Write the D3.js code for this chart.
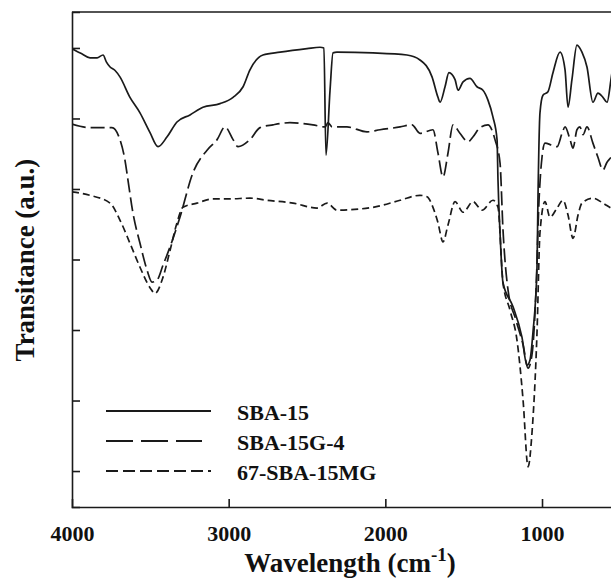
<!DOCTYPE html>
<html>
<head>
<meta charset="utf-8">
<script src="https://cdn.jsdelivr.net/npm/d3@7"></script>
<style>
  html, body { margin: 0; padding: 0; background: #fff; }
  svg { display: block; }
  text { font-family: "Liberation Serif", "Times New Roman", serif; font-weight: bold; fill: #111; }
</style>
</head>
<body>
<svg id="chart" width="611" height="587"></svg>
<script>
// FTIR spectra: wavenumber (cm-1) and transmittance (arbitrary units, offset traces)
const seriesNames = ["SBA-15", "SBA-15G-4", "67-SBA-15MG"];

const sba15Wn = [4000,3940,3885,3840,3802,3780,3757,3725,3694,3630,3566,3502,3451,3393,3330,3247,3164,3055,2972,2908,2864,2781,2672,2500,2417,2392,2379,2353,2334,2309,2079,1862,1779,1702,1664,1651,1619,1594,1555,1536,1504,1460,1415,1377,1345,1313,1287,1281,1268,1249,1185,1128,1096,1077,1058,1032,1026,1013,994,962,930,885,853,834,809,777,745,713,675,643,611,585,560,534];
const sba15T  = [5.99,5.92,5.86,5.86,5.90,5.80,5.73,5.68,5.59,5.30,5.08,4.80,4.60,4.74,4.95,5.05,5.16,5.21,5.30,5.45,5.69,5.90,5.94,5.99,6.01,6.00,4.48,5.40,5.93,5.94,5.93,5.90,5.83,5.59,5.30,5.23,5.45,5.65,5.55,5.40,5.52,5.57,5.45,5.40,5.26,5.02,4.70,4.13,3.38,2.67,2.33,1.90,1.50,1.57,1.96,2.89,3.84,5.08,5.33,5.38,5.65,5.94,5.69,5.16,5.55,6.04,5.94,5.73,5.23,5.36,5.30,5.23,5.55,6.00];

const sbaG4Wn = [4000,3885,3745,3694,3662,3643,3611,3566,3521,3489,3457,3419,3374,3311,3228,3138,3074,3023,2972,2940,2864,2800,2717,2609,2462,2385,2366,2340,2245,2117,2034,1906,1830,1779,1696,1664,1632,1600,1568,1524,1472,1440,1396,1345,1300,1268,1249,1217,1166,1121,1089,1064,1038,1019,1000,981,936,904,872,853,821,802,777,758,738,713,675,643,611,585,560,534];
const sbaG4T  = [4.92,4.87,4.87,4.70,4.41,4.13,3.66,3.23,2.85,2.68,2.71,2.92,3.18,3.60,4.23,4.55,4.70,4.88,4.70,4.60,4.70,4.87,4.91,4.94,4.91,4.88,4.94,4.88,4.88,4.81,4.84,4.88,4.91,4.79,4.84,4.51,4.17,4.51,4.91,4.79,4.67,4.74,4.87,4.91,4.70,4.37,3.42,2.57,2.14,1.79,1.46,1.65,2.57,3.84,4.45,4.65,4.62,4.60,4.79,4.88,4.70,4.58,4.84,4.88,4.77,4.88,4.65,4.45,4.27,4.38,4.45,4.55];

const sbaMgWn = [4000,3885,3757,3694,3630,3566,3502,3470,3419,3374,3330,3292,3202,3100,2992,2864,2755,2589,2436,2372,2309,2079,1906,1779,1734,1696,1664,1632,1600,1555,1504,1440,1383,1313,1281,1249,1204,1160,1121,1089,1064,1032,1013,981,949,904,866,834,802,770,745,675,611,560,534];
const sbaMgT  = [3.96,3.91,3.80,3.56,3.23,2.89,2.60,2.52,2.75,3.13,3.52,3.74,3.80,3.86,3.86,3.87,3.84,3.80,3.73,3.80,3.70,3.74,3.84,3.91,3.89,3.74,3.52,3.25,3.49,3.82,3.67,3.82,3.70,3.84,3.74,2.67,2.28,1.86,1.01,0.06,0.54,1.96,3.38,3.82,3.60,3.73,3.84,3.63,3.30,3.63,3.80,3.87,3.80,3.73,3.70];

const xTicks = [4000, 3000, 2000, 1000];
const yTicks = [0, 1, 2, 3, 4, 5, 6];

const svg = d3.select("#chart");
const plotLeft = 72, plotTop = 12, plotBottom = 507;

const x = d3.scaleLinear().domain([4000, 400]).range([plotLeft, plotLeft + 3600 * 0.15667]);
const y = d3.scaleLinear().domain([-0.51, 6.51]).range([plotBottom, plotTop]);

const ink = "#1a1a1a";

// traces
const line = d3.line().curve(d3.curveMonotoneX).x(d => x(d[0])).y(d => y(d[1]));
const traces = [
  { wn: sba15Wn, t: sba15T, dash: null, legendDash: null, legendEnd: 211 },
  { wn: sbaG4Wn, t: sbaG4T, dash: "14,5", legendDash: "27,8", legendEnd: 202 },
  { wn: sbaMgWn, t: sbaMgT, dash: "7,4", legendDash: "12,5", legendEnd: 211 }
];

svg.append("clipPath").attr("id", "plotClip")
  .append("rect").attr("x", plotLeft).attr("y", plotTop).attr("width", 700).attr("height", plotBottom - plotTop);

const g = svg.append("g").attr("clip-path", "url(#plotClip)");
traces.forEach(s => {
  g.append("path")
    .datum(d3.zip(s.wn, s.t))
    .attr("d", line)
    .attr("fill", "none")
    .attr("stroke", ink)
    .attr("stroke-width", 1.7)
    .attr("stroke-linejoin", "round")
    .attr("stroke-dasharray", s.dash);
});

// axes with inward ticks
const xAxis = d3.axisBottom(x).tickValues(xTicks).tickSize(-8).tickPadding(20).tickFormat(d3.format("d"));
const gx = svg.append("g").attr("transform", `translate(0,${plotBottom})`).call(xAxis);
const yAxis = d3.axisLeft(y).tickValues(yTicks).tickSize(-8).tickFormat("");
const gy = svg.append("g").attr("transform", `translate(${plotLeft},0)`).call(yAxis);

[gx, gy].forEach(a => {
  a.select(".domain").attr("stroke", ink).attr("stroke-width", 1.6);
  a.selectAll(".tick line").attr("stroke", ink).attr("stroke-width", 1.6);
});
gx.selectAll(".tick").filter(d => d === 4000).select("line").remove();
gx.selectAll(".tick text")
  .attr("font-size", 22)
  .attr("font-family", "'Liberation Serif', 'Times New Roman', serif")
  .attr("font-weight", "bold")
  .attr("fill", "#111")
  .attr("dy", null)
  .attr("y", 34);

// top frame line
svg.append("line")
  .attr("x1", plotLeft).attr("x2", 700).attr("y1", plotTop).attr("y2", plotTop)
  .attr("stroke", ink).attr("stroke-width", 1.6);

// axis titles
const xt = svg.append("text").attr("x", 350).attr("y", 572).attr("text-anchor", "middle").attr("font-size", 27);
xt.append("tspan").text("Wavelength (cm");
xt.append("tspan").attr("font-size", 19).attr("dy", -11).text("-1");
xt.append("tspan").attr("dy", 11).text(")");

svg.append("text")
  .attr("transform", "translate(34,260) rotate(-90)")
  .attr("text-anchor", "middle")
  .attr("font-size", 27)
  .text("Transitance (a.u.)");

// legend
const legend = svg.append("g");
traces.forEach((s, i) => {
  const ly = 411 + i * 30;
  legend.append("line")
    .attr("x1", 106).attr("x2", s.legendEnd).attr("y1", ly).attr("y2", ly)
    .attr("stroke", ink).attr("stroke-width", 1.8)
    .attr("stroke-dasharray", s.legendDash);
  legend.append("text")
    .attr("x", 237).attr("y", ly + 9)
    .attr("font-size", 22)
    .text(seriesNames[i]);
});
</script>
</body>
</html>
